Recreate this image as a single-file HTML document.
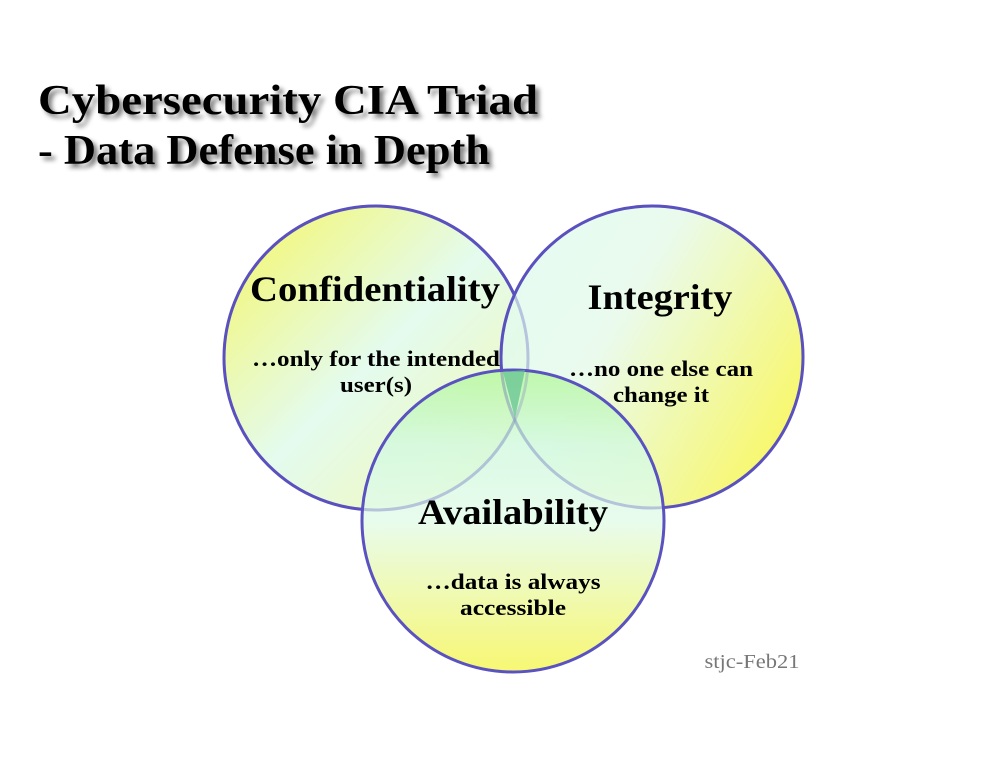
<!DOCTYPE html>
<html><head><meta charset="utf-8"><style>
html,body{margin:0;padding:0;background:#fff;}
svg{display:block;}
text{font-family:"Liberation Serif",serif;font-weight:bold;}
</style></head><body>
<svg width="1005" height="777" viewBox="0 0 1005 777" xmlns="http://www.w3.org/2000/svg">
<defs>
<linearGradient id="gc" x1="0" y1="0" x2="1" y2="1">
<stop offset="0" stop-color="#f6f65a"/><stop offset="0.5" stop-color="#e2fbee"/><stop offset="0.8" stop-color="#eef9c0"/><stop offset="1" stop-color="#f6f65a"/></linearGradient>
<linearGradient id="gi" x1="0" y1="0" x2="1" y2="0.6">
<stop offset="0" stop-color="#e0fbf0"/><stop offset="0.45" stop-color="#e6faea"/><stop offset="1" stop-color="#f6f65a"/></linearGradient>
<linearGradient id="ga" x1="0" y1="0" x2="0" y2="1">
<stop offset="0" stop-color="#b8f7a0"/><stop offset="0.25" stop-color="#d4f9e0"/><stop offset="0.5" stop-color="#e4fbea"/><stop offset="1" stop-color="#f6f65a"/></linearGradient>
<filter id="sh" x="-5%" y="-20%" width="115%" height="150%"><feGaussianBlur in="SourceAlpha" stdDeviation="2.5"/><feOffset dx="4" dy="4"/><feComponentTransfer><feFuncA type="linear" slope="0.5"/></feComponentTransfer><feMerge><feMergeNode/><feMergeNode in="SourceGraphic"/></feMerge></filter>
</defs>
<g filter="url(#sh)" font-size="42">
<text x="38" y="114" textLength="500" lengthAdjust="spacingAndGlyphs">Cybersecurity CIA Triad</text>
<text x="38" y="164" textLength="452" lengthAdjust="spacingAndGlyphs">- Data Defense in Depth</text>
</g>
<circle cx="376" cy="358" r="152" fill="url(#gc)" fill-opacity="0.95" stroke="#5a52c0" stroke-width="3"/>
<circle cx="652" cy="357" r="151" fill="url(#gi)" fill-opacity="0.85" stroke="#5a52c0" stroke-width="3"/>
<circle cx="513" cy="521" r="151" fill="url(#ga)" fill-opacity="0.85" stroke="#5a52c0" stroke-width="3"/>
<circle cx="376" cy="358" r="152" fill="none" stroke="#5a52c0" stroke-opacity="0.2" stroke-width="3"/>
<circle cx="652" cy="357" r="151" fill="none" stroke="#5a52c0" stroke-opacity="0.2" stroke-width="3"/>
<path d="M503 372 L525 370 L515 418 Z" fill="#5fbf90" opacity="0.7"/>
<g text-anchor="middle" fill="#000">
<text x="375" y="301" font-size="36" textLength="250" lengthAdjust="spacingAndGlyphs">Confidentiality</text>
<text x="376" y="366" font-size="22" textLength="248" lengthAdjust="spacingAndGlyphs">…only for the intended</text>
<text x="376" y="392" font-size="22" textLength="72" lengthAdjust="spacingAndGlyphs">user(s)</text>
<text x="660" y="309" font-size="36" textLength="145" lengthAdjust="spacingAndGlyphs">Integrity</text>
<text x="661" y="376" font-size="22" textLength="184" lengthAdjust="spacingAndGlyphs">…no one else can</text>
<text x="661" y="402" font-size="22" textLength="96" lengthAdjust="spacingAndGlyphs">change it</text>
<text x="513" y="524" font-size="36" textLength="190" lengthAdjust="spacingAndGlyphs">Availability</text>
<text x="513" y="589" font-size="22" textLength="175" lengthAdjust="spacingAndGlyphs">…data is always</text>
<text x="513" y="615" font-size="22" textLength="106" lengthAdjust="spacingAndGlyphs">accessible</text>
</g>
<text x="752" y="668" text-anchor="middle" font-size="20" fill="#777" style="font-weight:normal" textLength="95" lengthAdjust="spacingAndGlyphs">stjc-Feb21</text>
</svg>
</body></html>
